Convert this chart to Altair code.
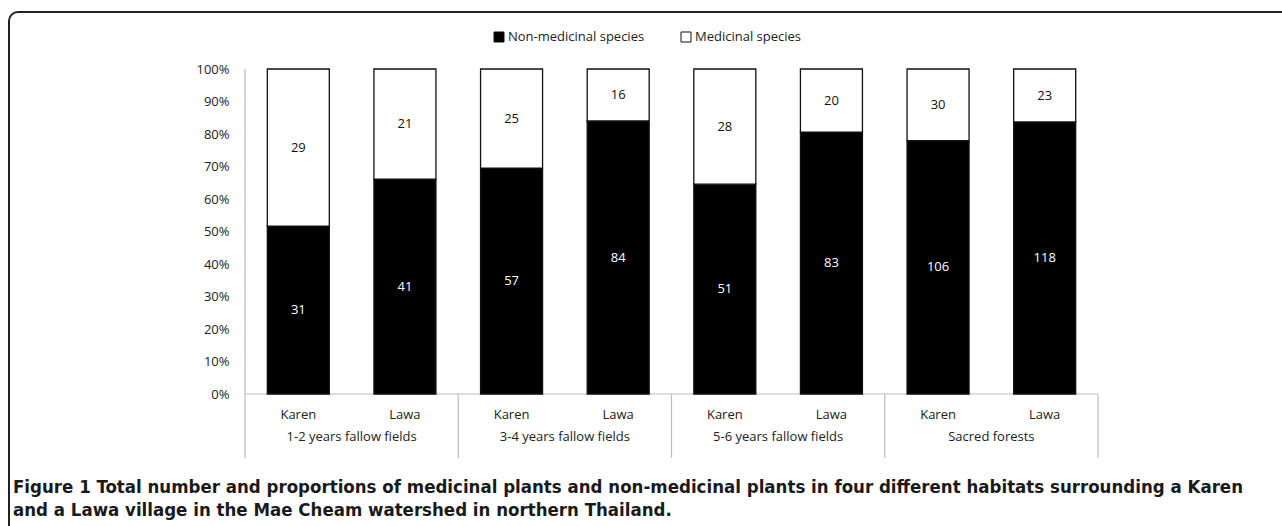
import altair as alt
import pandas as pd

habitats = ["1-2 years fallow fields", "3-4 years fallow fields",
            "5-6 years fallow fields", "Sacred forests"]
villages = ["Karen", "Lawa"]
non_medicinal = [31, 41, 57, 84, 51, 83, 106, 118]
medicinal = [29, 21, 25, 16, 28, 20, 30, 23]
species_types = ["Non-medicinal species", "Medicinal species"]
y_ticks = [0.0, 0.1, 0.2, 0.3, 0.4, 0.5, 0.6, 0.7, 0.8, 0.9, 1.0]
caption_line1 = ("Figure 1 Total number and proportions of medicinal plants and non-medicinal "
                 "plants in four different habitats surrounding a Karen")
caption_line2 = "and a Lawa village in the Mae Cheam watershed in northern Thailand."

rows = []
for i in range(len(non_medicinal)):
    for k, (t, vals) in enumerate(zip(species_types, [non_medicinal, medicinal])):
        rows.append(dict(idx=i, habitat=habitats[i // 2], village=villages[i % 2],
                         kind=t, ord=k, n=vals[i]))
df = pd.DataFrame(rows)
gdf = pd.DataFrame({"habitat": habitats, "g": list(range(len(habitats)))})
ldf = pd.DataFrame({"kind": species_types, "ord": [0, 1]})

W, H = 863, 325
FONT = "Open Sans"
CAP_FONT = "Liberation Sans Narrow, DejaVu Sans Condensed, Liberation Sans"
XS = alt.Scale(domain=[0, 8])
YS = alt.Scale(domain=[0, 1])
CS = alt.Scale(domain=species_types, range=["#000000", "#ffffff"])


def y_axis():
    return alt.Axis(values=y_ticks, format=".0%", ticks=False, domain=False, grid=False,
                    labelFont=FONT, labelFontSize=13, labelColor="#222",
                    labelPadding=11, labelOverlap=False, title=None)


base = alt.Chart(df).transform_calculate(xc="datum.idx + 0.5")

bars = base.mark_bar(size=62, stroke="#111", strokeWidth=1.3).encode(
    x=alt.X("xc:Q", scale=XS, axis=None),
    y=alt.Y("n:Q", stack="normalize", scale=YS, axis=y_axis()),
    order=alt.Order("ord:Q", sort="ascending"),
    color=alt.Color("kind:N", scale=CS, legend=None),
)

lab_base = base.transform_joinaggregate(
    total="sum(n)", groupby=["idx"]
).transform_window(
    cum="sum(n)", groupby=["idx"], sort=[alt.SortField("ord", order="ascending")]
).transform_calculate(
    mid="(datum.cum - datum.n / 2) / datum.total"
)
labels_dark = lab_base.transform_filter("datum.ord == 0").mark_text(
    font=FONT, fontSize=13, color="white").encode(
    x=alt.X("xc:Q", scale=XS, axis=None), y=alt.Y("mid:Q", scale=YS, axis=y_axis()), text="n:Q")
labels_light = lab_base.transform_filter("datum.ord == 1").mark_text(
    font=FONT, fontSize=13, color="#111").encode(
    x=alt.X("xc:Q", scale=XS, axis=None), y=alt.Y("mid:Q", scale=YS, axis=y_axis()), text="n:Q")

village_labels = base.transform_filter("datum.ord == 0").mark_text(
    font=FONT, fontSize=13, color="#222").encode(
    x=alt.X("xc:Q", scale=XS, axis=None), y=alt.value(346), text="village:N")

groups = alt.Chart(gdf).transform_calculate(gc="2 * datum.g + 1", gb="2 * datum.g + 2")
group_labels = groups.mark_text(font=FONT, fontSize=13, color="#222").encode(
    x=alt.X("gc:Q", scale=XS, axis=None), y=alt.value(368), text="habitat:N")
separators = groups.mark_rule(color="#bdbdbd", strokeWidth=1.2).encode(
    x=alt.X("gb:Q", scale=XS, axis=None), y=alt.value(H), y2=alt.value(389))

anchor = groups.transform_filter("datum.g == 0").transform_calculate(x0="0", x8="8")
axis_y = anchor.mark_rule(color="#bdbdbd", strokeWidth=1.2).encode(
    x=alt.X("x0:Q", scale=XS, axis=None), y=alt.value(0), y2=alt.value(389))
axis_x = anchor.mark_rule(color="#bdbdbd", strokeWidth=1.2).encode(
    x=alt.X("x0:Q", scale=XS, axis=None), x2="x8:Q", y=alt.value(H))

border = anchor.mark_rect(fillOpacity=0, stroke="#222", strokeWidth=2, cornerRadius=9,
                          xOffset=-236, x2Offset=300).encode(
    x=alt.X("x0:Q", scale=XS, axis=None), x2="x8:Q", y=alt.value(-57), y2=alt.value(700))

cap1 = anchor.mark_text(font=CAP_FONT, fontSize=18.5, fontWeight="bold", align="left",
                        color="#1a1a1a", xOffset=-232).encode(
    x=alt.X("x0:Q", scale=XS, axis=None), y=alt.value(418), text=alt.value(caption_line1))
cap2 = anchor.mark_text(font=CAP_FONT, fontSize=18.5, fontWeight="bold", align="left",
                        color="#1a1a1a", xOffset=-232).encode(
    x=alt.X("x0:Q", scale=XS, axis=None), y=alt.value(441), text=alt.value(caption_line2))

leg_sym_x = [259, 446]
legend_layers = []
for k in range(len(species_types)):
    sub = alt.Chart(ldf).transform_filter(f"datum.ord == {k}")
    legend_layers.append(sub.mark_point(shape="square", size=100, filled=True, stroke="#111",
                                        strokeWidth=1, opacity=1).encode(
        x=alt.value(leg_sym_x[k]), y=alt.value(-32),
        fill=alt.Fill("kind:N", scale=CS, legend=None)))
    legend_layers.append(sub.mark_text(font=FONT, fontSize=13, color="#222", align="left").encode(
        x=alt.value(leg_sym_x[k] + 9), y=alt.value(-32), text="kind:N"))

chart = alt.layer(border, axis_y, axis_x, separators, bars, labels_dark, labels_light,
                  village_labels, group_labels, *legend_layers, cap1, cap2).properties(
    width=W, height=H, autosize=alt.AutoSizeParams(type="none"),
    padding={"left": 240, "top": 69, "right": 179, "bottom": 132},
    background="white",
).configure_view(strokeWidth=0)

chart.save("out.html", embed_options={"renderer": "svg", "actions": False})
